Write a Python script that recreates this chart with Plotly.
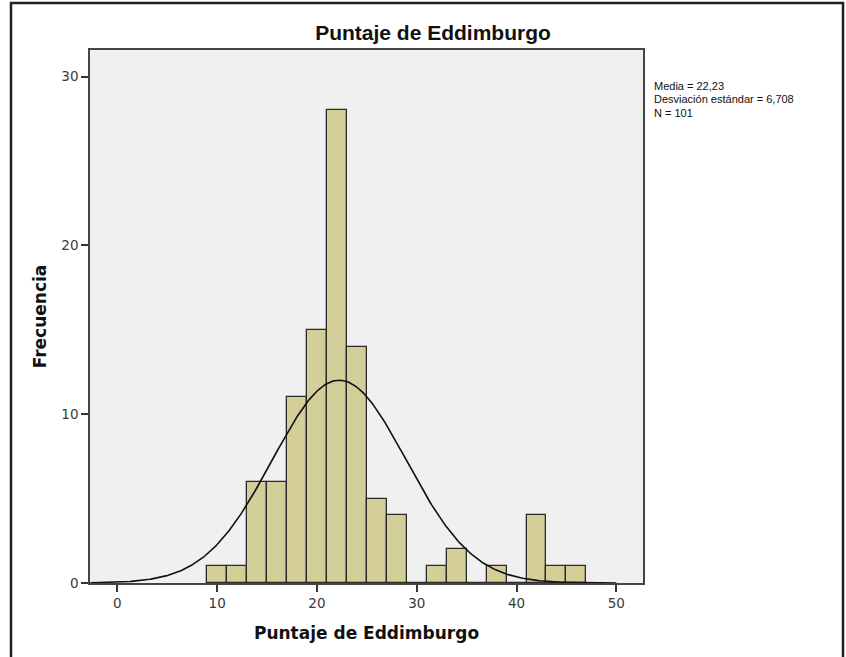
import numpy as np
import plotly.graph_objects as go

# Histogram data (bin width 2, starting at 9)
bin_starts = [9, 11, 13, 15, 17, 19, 21, 23, 25, 27, 29, 31, 33, 35, 37, 39, 41, 43, 45]
counts     = [1, 1, 6, 6, 11, 15, 28, 14, 5, 4, 0, 1, 2, 0, 1, 0, 4, 1, 1]
bin_width = 2

media = 22.23
desv = 6.708
n_total = 101

x_ticks = [0, 10, 20, 30, 40, 50]
y_ticks = [0, 10, 20, 30]

centers = [b + bin_width / 2 for b in bin_starts]

xs = np.linspace(-2.7, 50, 400)
ys = n_total * bin_width / (desv * np.sqrt(2 * np.pi)) * np.exp(-0.5 * ((xs - media) / desv) ** 2)

fig = go.Figure()
fig.add_trace(go.Bar(
    x=centers, y=counts, width=bin_width,
    marker=dict(color="#D4CF98", line=dict(color="#2a2a2a", width=1.3)),
    hoverinfo="x+y", showlegend=False,
))
fig.add_trace(go.Scatter(
    x=xs, y=ys, mode="lines",
    line=dict(color="#111111", width=1.6), showlegend=False, hoverinfo="skip",
))

L, R, T, B = 90, 203, 50, 74
W, H = 846, 657
pw, ph = W - L - R, H - T - B

def px(x):
    return (x - L) / pw

def py(y):
    return (H - B - y) / ph

arial = "Liberation Sans, Arial, sans-serif"
wide = "DejaVu Sans, Verdana, sans-serif"

fig.update_layout(
    width=W, height=H,
    margin=dict(l=L, r=R, t=T, b=B, pad=0),
    paper_bgcolor="white",
    plot_bgcolor="#F0F0F0",
    bargap=0,
    font=dict(family=arial, color="#333333"),
    title=dict(
        text="<b>Puntaje de Eddimburgo</b>",
        x=px(433), xanchor="center", xref="paper",
        y=1 - 33 / H, yanchor="middle", yref="container",
        font=dict(size=21, color="#111111", family=arial),
    ),
    xaxis=dict(
        range=[-2.74, 52.67],
        tickmode="array", tickvals=x_ticks, ticktext=[str(v) for v in x_ticks],
        ticks="outside", ticklen=7, tickwidth=1.5, tickcolor="#333333",
        showline=True, linecolor="#444444", linewidth=1.5, mirror=True,
        showgrid=False, zeroline=False,
        tickfont=dict(size=13.5, color="#3a3a3a", family=wide),
        title=dict(text="<b>Puntaje de Eddimburgo</b>", standoff=17,
                   font=dict(size=17, color="#111111", family=wide)),
    ),
    yaxis=dict(
        range=[0, 31.58],
        tickmode="array", tickvals=y_ticks, ticktext=[str(v) for v in y_ticks],
        ticks="outside", ticklen=7, tickwidth=1.5, tickcolor="#333333",
        showline=True, linecolor="#444444", linewidth=1.5, mirror=True,
        showgrid=False, zeroline=False,
        tickfont=dict(size=13.5, color="#3a3a3a", family=wide),
        title=dict(text="<b>Frecuencia</b>", standoff=10,
                   font=dict(size=17, color="#111111", family=wide)),
    ),
)

stat_lines = [
    f"Media = {media:.2f}".replace(".", ","),
    f"Desviación estándar = {desv:.3f}".replace(".", ","),
    f"N = {n_total}",
]
for i, t in enumerate(stat_lines):
    fig.add_annotation(
        text=t, xref="paper", yref="paper",
        x=px(652), y=py(86 + i * 13.5), xanchor="left", yanchor="middle",
        showarrow=False, font=dict(size=11, color="#111111", family=arial),
    )

# outer frame
fig.add_shape(type="rect", xref="paper", yref="paper",
              x0=px(11), x1=px(843), y0=py(662), y1=py(3),
              line=dict(color="#222222", width=2.5), fillcolor="rgba(0,0,0,0)",
              layer="above")

fig.write_html("out.html")
